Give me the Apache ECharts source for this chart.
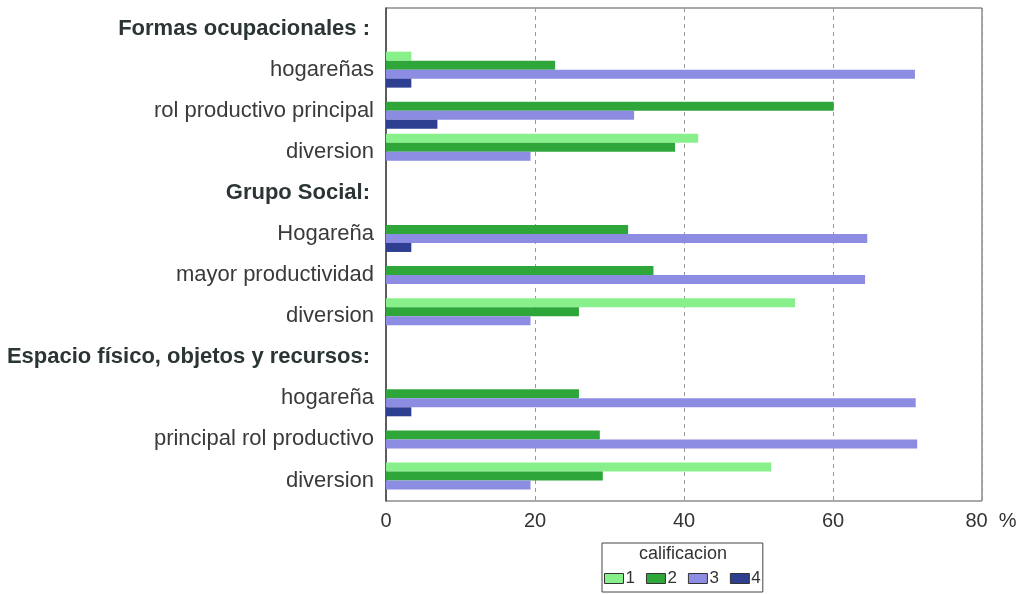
<!DOCTYPE html>
<html>
<head>
<meta charset="utf-8">
<script src="https://cdn.jsdelivr.net/npm/echarts@6/dist/echarts.min.js"></script>
<style>
  html, body { margin: 0; padding: 0; background: #fff; }
  #chart { width: 1021px; height: 594px; }
</style>
</head>
<body>
<div id="chart"></div>
<script>
// Row labels, top to bottom; section headers carry no bars
const categories = [
  'Formas ocupacionales :',
  'hogareñas',
  'rol productivo principal',
  'diversion',
  'Grupo Social:',
  'Hogareña',
  'mayor productividad',
  'diversion',
  'Espacio físico, objetos y recursos:',
  'hogareña',
  'principal rol productivo',
  'diversion'
];
const headerRows = [0, 4, 8];

// Percentage per rating (calificacion 1..4)
const cal1 = [null, 3.4, 0, 41.9, null, 0, 0, 54.9, null, 0, 0, 51.7];
const cal2 = [null, 22.7, 60.1, 38.8, null, 32.5, 35.9, 25.9, null, 25.9, 28.7, 29.1];
const cal3 = [null, 71.0, 33.3, 19.4, null, 64.6, 64.3, 19.4, null, 71.1, 71.3, 19.4];
const cal4 = [null, 3.4, 6.9, 0, null, 3.4, 0, 0, null, 3.4, 0, 0];

const seriesNames = ['1', '2', '3', '4'];
const xTicks = [0, 20, 40, 60, 80];
const legendTitle = 'calificacion';

const colors = ['#88f08a', '#2ea63a', '#8c8ce2', '#2e3e90'];
const seriesData = [cal1, cal2, cal3, cal4];
const FONT = '"Liberation Sans", Arial, sans-serif';

const chart = echarts.init(document.getElementById('chart'));

chart.setOption({
  animation: false,
  backgroundColor: '#ffffff',
  grid: {
    left: 386, right: 39, top: 8, bottom: 93,
    show: true, borderColor: '#555', borderWidth: 1
  },
  xAxis: {
    type: 'value',
    min: xTicks[0], max: xTicks[xTicks.length - 1], interval: 20,
    axisLine: { show: false },
    axisTick: { show: false },
    axisLabel: {
      fontFamily: FONT,
      fontSize: 20, color: '#333', margin: 10,
      // the last tick carries the unit, set off to the right of the number
      formatter: v => (v === xTicks[xTicks.length - 1] ? '{s|}' + v + '  %' : String(v)),
      rich: { s: { width: 18 } }
    },
    splitLine: {
      show: true,
      lineStyle: { color: '#999', type: [4, 4], width: 1 }
    }
  },
  yAxis: {
    type: 'category',
    data: categories,
    inverse: true,
    axisLine: { show: true, lineStyle: { color: '#444', width: 1.5 } },
    axisTick: { show: false },
    axisLabel: {
      margin: 12,
      fontFamily: FONT,
      fontSize: 22, color: '#3a3a3a',
      formatter: (v, i) => headerRows.indexOf(i) >= 0 ? '{h|' + v + '}' : v,
      rich: {
        h: {
          fontFamily: FONT,
          fontSize: 22, fontWeight: 'bold', color: '#2b3535',
          padding: [0, 4, 0, 0]
        }
      }
    }
  },
  legend: {
    data: seriesNames,
    left: 602, top: 543,
    orient: 'horizontal',
    icon: 'rect',
    padding: [27, 2, 5, 2],
    itemGap: 11,
    itemWidth: 19, itemHeight: 10,
    borderColor: '#444', borderWidth: 1,
    textStyle: {
      fontFamily: FONT,
      fontSize: 17, color: '#333', padding: [0, 0, 0, -3]
    },
    itemStyle: { borderColor: '#333', borderWidth: 1 }
  },
  graphic: [{
    type: 'text',
    x: 683, y: 545,
    style: {
      text: legendTitle,
      font: '18px "Liberation Sans", Arial, sans-serif',
      fill: '#333',
      textAlign: 'center',
      textVerticalAlign: 'top'
    }
  }],
  series: seriesData.map((d, i) => ({
    name: seriesNames[i],
    type: 'bar',
    data: d,
    barWidth: 9,
    barGap: '0%',
    itemStyle: { color: colors[i] }
  }))
});
</script>
</body>
</html>
